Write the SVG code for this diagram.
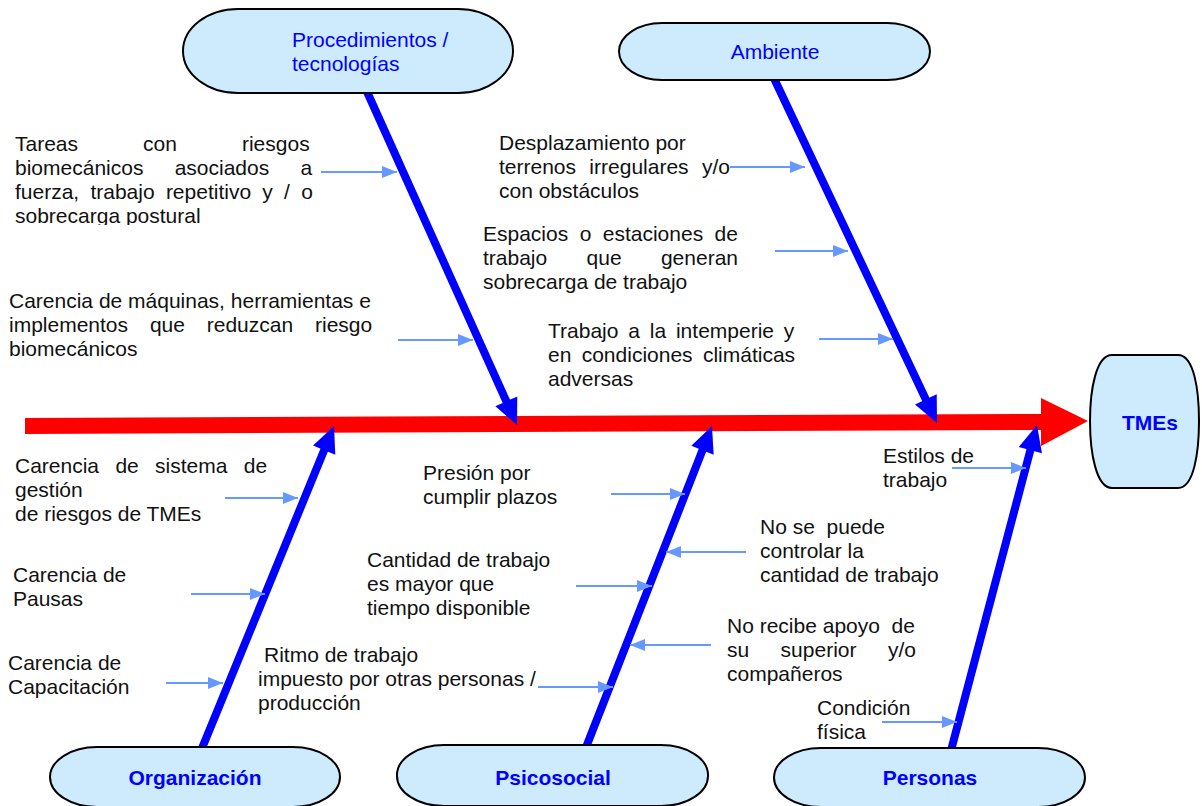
<svg xmlns="http://www.w3.org/2000/svg" width="1202" height="806" viewBox="0 0 1202 806">
<style>
.t{font-family:"Liberation Sans",Arial,sans-serif;font-size:21px;fill:#111}
.n{font-family:"Liberation Sans",Arial,sans-serif;font-size:21px;fill:#0000ff}
.b{font-weight:bold}
.node{fill:#cdebfd;stroke:#000;stroke-width:2}
.bone{stroke:#0000ff;stroke-width:8;fill:none;marker-end:url(#big)}
.sub{stroke:#6699ff;stroke-width:2;fill:none;marker-end:url(#small)}
</style>
<defs>
<marker id="big" markerUnits="userSpaceOnUse" markerWidth="26" markerHeight="24" refX="8" refY="12" orient="auto" overflow="visible">
<path d="M0,0 L26,12 L0,24 Z" fill="#0000ff"/>
</marker>
<marker id="small" markerUnits="userSpaceOnUse" markerWidth="15" markerHeight="12" refX="15" refY="6" orient="auto" overflow="visible">
<path d="M0,0 L15,6 L0,12 Z" fill="#6699ff"/>
</marker>
<clipPath id="clipTareas"><rect x="0" y="120" width="340" height="105"/></clipPath>
</defs>
<rect width="1202" height="806" fill="#fff"/>

<g id="connectors">
<polygon id="spine" points="25,418 1041,414 1041,398 1088,421 1041,446 1041,430 25,434" fill="#ff0000"/>
<line class="bone" x1="364" y1="85" x2="509.6" y2="408.6"/>
<line class="bone" x1="771" y1="72" x2="929.3" y2="406.7"/>
<line class="bone" x1="198" y1="758" x2="327.2" y2="442.7"/>
<line class="bone" x1="583" y1="755" x2="705.4" y2="442.8"/>
<line class="bone" x1="949" y1="758" x2="1032.4" y2="442.4"/>
<line class="sub" x1="321" y1="172" x2="397" y2="172"/>
<line class="sub" x1="398" y1="340" x2="473" y2="340"/>
<line class="sub" x1="730" y1="167" x2="805" y2="167"/>
<line class="sub" x1="775" y1="251" x2="848" y2="251"/>
<line class="sub" x1="819" y1="339" x2="893" y2="339"/>
<line class="sub" x1="952" y1="468" x2="1026" y2="468"/>
<line class="sub" x1="225" y1="498" x2="298" y2="498"/>
<line class="sub" x1="191" y1="594" x2="265" y2="594"/>
<line class="sub" x1="166" y1="683" x2="223" y2="683"/>
<line class="sub" x1="611" y1="494" x2="685" y2="494"/>
<line class="sub" x1="746" y1="552" x2="666" y2="552"/>
<line class="sub" x1="576" y1="586" x2="652" y2="586"/>
<line class="sub" x1="711" y1="645" x2="630" y2="645"/>
<line class="sub" x1="538" y1="687" x2="613" y2="687"/>
<line class="sub" x1="882" y1="722" x2="957" y2="722"/>
</g>

<g id="node-procedimientos">
<rect class="node" x="183" y="9" width="330" height="84" rx="55" ry="42"/>
<text class="n" x="292" y="47">Procedimientos /</text>
<text class="n" x="292" y="71">tecnologías</text>
</g>
<g id="node-ambiente">
<rect class="node" x="619" y="23" width="311" height="57" rx="43" ry="28.5"/>
<text class="n" x="775" y="59" text-anchor="middle">Ambiente</text>
</g>
<g id="node-tmes">
<path class="node" d="M1112,355 H1178 C1194,355 1199,390 1199,421 C1199,452 1194,488 1178,488 H1112 C1096,488 1090,452 1090,421 C1090,390 1096,355 1112,355 Z"/>
<text class="n b" x="1150" y="430" text-anchor="middle">TMEs</text>
</g>
<g id="node-organizacion">
<rect class="node" x="50" y="747" width="290" height="60" rx="47" ry="30"/>
<text class="n b" x="195" y="785" text-anchor="middle">Organización</text>
</g>
<g id="node-psicosocial">
<rect class="node" x="397" y="745" width="311" height="61" rx="47" ry="30"/>
<text class="n b" x="553" y="785" text-anchor="middle">Psicosocial</text>
</g>
<g id="node-personas">
<rect class="node" x="774" y="748" width="311" height="59" rx="47" ry="30"/>
<text class="n b" x="930" y="785" text-anchor="middle">Personas</text>
</g>

<g id="cause-tareas" clip-path="url(#clipTareas)">
<text class="t" x="15" y="151" style="word-spacing:59.2px">Tareas con riesgos</text>
<text class="t" x="15" y="175" style="word-spacing:25.4px">biomecánicos asociados a</text>
<text class="t" x="15" y="199" style="word-spacing:5.4px">fuerza, trabajo repetitivo y / o</text>
<text class="t" x="15" y="223">sobrecarga postural</text>
</g>
<g id="cause-maquinas">
<text class="t" x="9" y="308">Carencia de máquinas, herramientas e</text>
<text class="t" x="9" y="332" style="word-spacing:16px">implementos que reduzcan riesgo</text>
<text class="t" x="9" y="356">biomecánicos</text>
</g>
<g id="cause-desplazamiento">
<text class="t" x="499" y="150">Desplazamiento por</text>
<text class="t" x="499" y="174" style="word-spacing:7.5px">terrenos irregulares y/o</text>
<text class="t" x="499" y="198">con obstáculos</text>
</g>
<g id="cause-espacios">
<text class="t" x="483" y="241" style="word-spacing:5.6px">Espacios o estaciones de</text>
<text class="t" x="483" y="265" style="word-spacing:33.5px">trabajo que generan</text>
<text class="t" x="483" y="289">sobrecarga de trabajo</text>
</g>
<g id="cause-intemperie">
<text class="t" x="548" y="338" style="word-spacing:4px">Trabajo a la intemperie y</text>
<text class="t" x="548" y="362" style="word-spacing:4.5px">en condiciones climáticas</text>
<text class="t" x="548" y="386">adversas</text>
</g>
<g id="cause-estilos">
<text class="t" x="883" y="463">Estilos de</text>
<text class="t" x="883" y="487">trabajo</text>
</g>
<g id="cause-sistema">
<text class="t" x="15" y="473" style="word-spacing:10.5px">Carencia de sistema de</text>
<text class="t" x="15" y="497">gestión</text>
<text class="t" x="15" y="521">de riesgos de TMEs</text>
</g>
<g id="cause-pausas">
<text class="t" x="13" y="582">Carencia de</text>
<text class="t" x="13" y="606">Pausas</text>
</g>
<g id="cause-capacitacion">
<text class="t" x="8" y="670">Carencia de</text>
<text class="t" x="8" y="694">Capacitación</text>
</g>
<g id="cause-ritmo">
<text class="t" x="264" y="662">Ritmo de trabajo</text>
<text class="t" x="258" y="686">impuesto por otras personas /</text>
<text class="t" x="258" y="710">producción</text>
</g>
<g id="cause-presion">
<text class="t" x="423" y="480">Presión por</text>
<text class="t" x="423" y="504">cumplir plazos</text>
</g>
<g id="cause-cantidad">
<text class="t" x="367" y="567">Cantidad de trabajo</text>
<text class="t" x="367" y="591">es mayor que</text>
<text class="t" x="367" y="615">tiempo disponible</text>
</g>
<g id="cause-control">
<text class="t" x="760" y="534" xml:space="preserve">No se  puede</text>
<text class="t" x="760" y="558">controlar la</text>
<text class="t" x="760" y="582">cantidad de trabajo</text>
</g>
<g id="cause-apoyo">
<text class="t" x="727" y="633" xml:space="preserve">No recibe apoyo  de</text>
<text class="t" x="727" y="657" style="word-spacing:25.6px">su superior y/o</text>
<text class="t" x="727" y="681">compañeros</text>
</g>
<g id="cause-condicion">
<text class="t" x="817" y="715">Condición</text>
<text class="t" x="817" y="739">física</text>
</g>
</svg>
